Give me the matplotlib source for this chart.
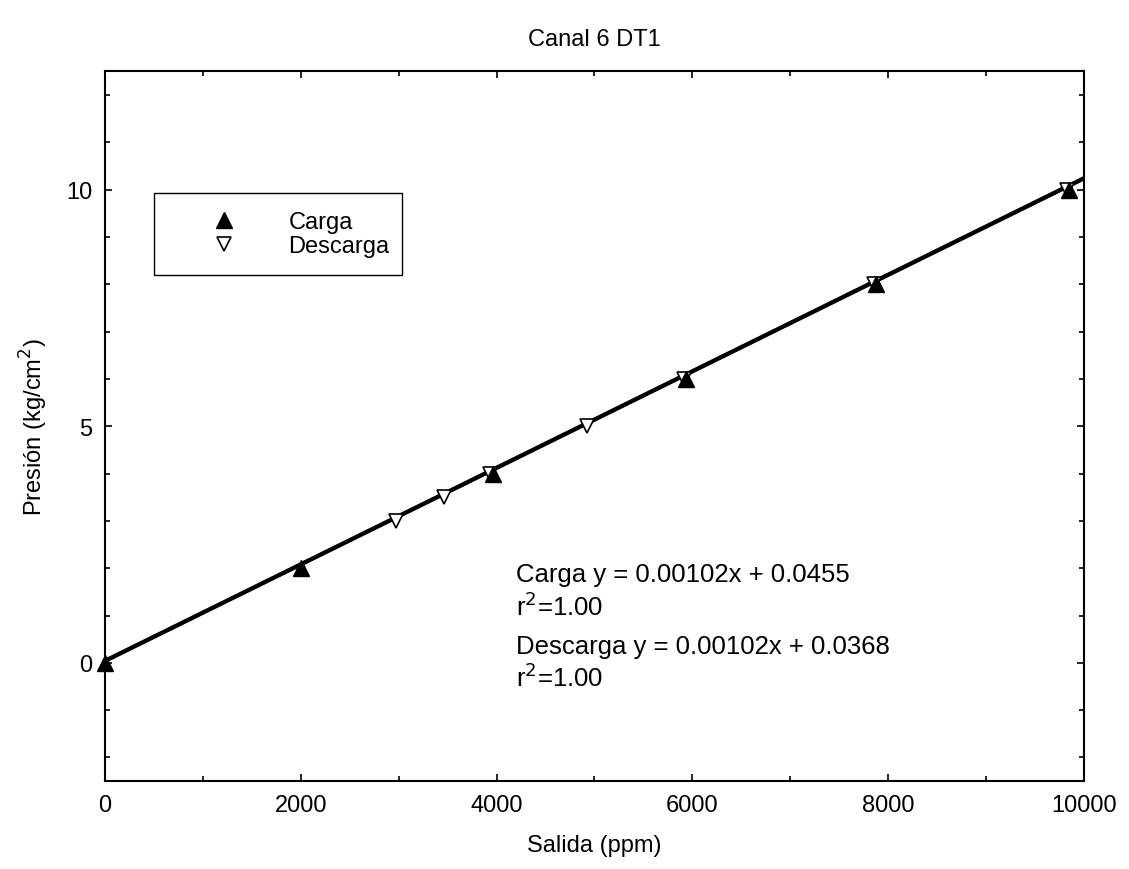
import numpy as np
import matplotlib
matplotlib.use('Agg')
import matplotlib.pyplot as plt
from matplotlib.patches import Rectangle
from matplotlib.ticker import MultipleLocator

plt.rcParams['font.family'] = ['Liberation Sans', 'DejaVu Sans']

# data
carga_x = [0, 2000, 3960, 5940, 7880, 9850]
carga_y = [0, 2, 4, 6, 8, 10]
descarga_x = [2970, 3460, 3930, 4920, 5920, 7860, 9830]
descarga_y = [3, 3.5, 4, 5, 6, 8, 10]

# fitted lines
carga_fit = (0.00102, 0.0455)
descarga_fit = (0.00102, 0.0368)
x_fit = [0, 10000]

fig = plt.figure(figsize=(11.29, 8.70), dpi=100)
ax = fig.add_axes([0.093, 0.101, 0.867, 0.8157])

for m, b in (carga_fit, descarga_fit):
    ax.plot(x_fit, [m * x + b for x in x_fit], color='black', lw=2.8, solid_capstyle='butt')

ax.plot(carga_x, carga_y, linestyle='none', marker='^', ms=11.5, color='black',
        label='Carga', clip_on=False, zorder=4)
ax.plot(descarga_x, descarga_y, linestyle='none', marker='v', ms=10.5,
        markerfacecolor='white', markeredgecolor='black', markeredgewidth=1.2,
        label='Descarga', clip_on=False, zorder=3)

ax.set_xlim(0, 10000)
ax.set_ylim(-2.5, 12.5)
ax.xaxis.set_major_locator(MultipleLocator(2000))
ax.xaxis.set_minor_locator(MultipleLocator(1000))
ax.yaxis.set_major_locator(MultipleLocator(5))
ax.yaxis.set_minor_locator(MultipleLocator(1))
ax.tick_params(which='both', direction='in', top=True, right=True, width=1.2)
ax.tick_params(which='major', length=5, labelsize=17, pad=9)
ax.tick_params(which='minor', length=3.5)
for s in ax.spines.values():
    s.set_linewidth(1.5)

ax.set_title('Canal 6 DT1', fontsize=17, pad=19)
ax.set_xlabel('Salida (ppm)', fontsize=17, labelpad=13)
ax.set_ylabel('Presión (kg/cm$^2$)', fontsize=17, labelpad=12)

# legend entries without frame, box drawn separately
ax.legend(loc='upper left', bbox_to_anchor=(0.0975, 0.803), fontsize=17,
          frameon=False, borderpad=0, handlelength=2.0, handletextpad=1.72,
          labelspacing=0.08, borderaxespad=0)
ax.add_patch(Rectangle((0.0501, 0.7127), 0.2536, 0.1155, transform=ax.transAxes,
                       fill=False, edgecolor='black', lw=1.0, zorder=5))

ax.text(0.42, 0.2915, 'Carga y = 0.00102x + 0.0455', transform=ax.transAxes,
        fontsize=18.5, va='center')
ax.text(0.42, 0.2465, 'r$^2$=1.00', transform=ax.transAxes, fontsize=18.5, va='center')
ax.text(0.42, 0.190, 'Descarga y = 0.00102x + 0.0368', transform=ax.transAxes,
        fontsize=18.5, va='center')
ax.text(0.42, 0.1465, 'r$^2$=1.00', transform=ax.transAxes, fontsize=18.5, va='center')

plt.savefig('out.png', dpi=100)
